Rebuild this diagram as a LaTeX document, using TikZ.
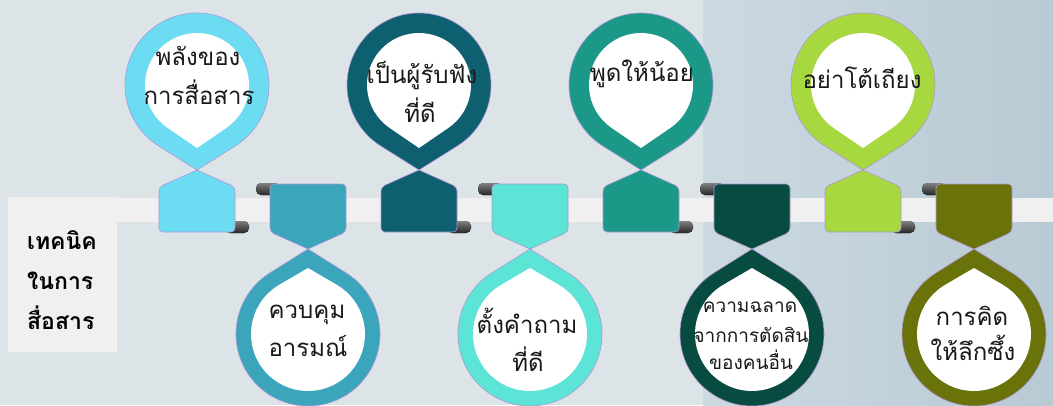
\documentclass[tikz,border=0pt]{standalone}
\usepackage{fontspec}
\newfontfamily\thai[Script=Thai]{Loma}
\usetikzlibrary{calc}
\definecolor{bgL}{RGB}{221,228,232}
\definecolor{bgR1}{RGB}{204,217,225}
\definecolor{bgR2}{RGB}{184,202,212}
\definecolor{bandc}{RGB}{240,240,240}
\definecolor{cA}{RGB}{108,220,242}
\definecolor{cB}{RGB}{58,165,187}
\definecolor{cC}{RGB}{14,96,112}
\definecolor{cD}{RGB}{92,228,214}
\definecolor{cE}{RGB}{27,152,136}
\definecolor{cF}{RGB}{8,75,65}
\definecolor{cG}{RGB}{168,216,64}
\definecolor{cH}{RGB}{106,115,10}
\definecolor{edgec}{RGB}{175,150,215}
\definecolor{txtc}{RGB}{25,25,25}
\tikzset{
  curl/.style={top color=black!50, bottom color=black!85, rounded corners=5},
  tabedge/.style={draw=edgec, line width=0.6pt},
  ptxt/.style={font=\thai\fontsize{24}{24}\selectfont, text=txtc, anchor=base, inner sep=0pt},
  stxt/.style={font=\thai\fontsize{19}{19}\selectfont, text=txtc, anchor=base, inner sep=0pt},
  lbl/.style={font=\thai\bfseries\fontsize{23}{23}\selectfont, text=black, anchor=base west, inner sep=0pt},
}
\newcommand\UpPin[2]{%
  \fill[curl] ({#1+28},221) rectangle ({#1+52},233);
  \filldraw[fill=#2, tabedge] (#1,170) [rounded corners=4] -- ({#1+38},187) -- ({#1+38},232) -- ({#1-38},232) -- ({#1-38},187) [sharp corners] -- cycle;
  \filldraw[fill=#2, tabedge] (#1,170) -- ($(#1,85)+(58:72)$) arc[start angle=58, end angle=-238, radius=72] -- cycle;
  \fill[white] (#1,148) -- ($(#1,85)+(55.6:52)$) arc[start angle=55.6, end angle=-235.6, radius=52] -- cycle;
}
\newcommand\DownPin[2]{%
  \fill[curl] ({#1-52},183) rectangle ({#1-28},195);
  \filldraw[fill=#2, tabedge] (#1,249) [rounded corners=4] -- ({#1-38},232) -- ({#1-38},184) -- ({#1+38},184) -- ({#1+38},232) [sharp corners] -- cycle;
  \filldraw[fill=#2, tabedge] (#1,249) -- ($(#1,334)+(-58:72)$) arc[start angle=-58, end angle=238, radius=72] -- cycle;
  \fill[white] (#1,268) -- ($(#1,334)+(-59.7:57)$) arc[start angle=-59.7, end angle=239.7, radius=57] -- cycle;
}
\begin{document}
\begin{tikzpicture}[x=1pt,y=-1pt]
\useasboundingbox (0,0) rectangle (1053,405);
\clip (0,0) rectangle (1053,405);
% background
\fill[bgL] (0,0) rectangle (703,405);
\shade[left color=bgR1, right color=bgR2] (703,0) rectangle (1053,405);
% band and label box
\fill[bandc] (8,198) rectangle (1053,222);
\fill[bandc] (8,197) rectangle (117,352);
\node[lbl] (l1) at (27,249) {เทคนิค};
\node[lbl] (l2) at (27,289) {ในการ};
\node[lbl] (l3) at (27,329) {สื่อสาร};
% pins
\UpPin{197}{cA}
\DownPin{308}{cB}
\UpPin{419}{cC}
\DownPin{530}{cD}
\UpPin{641}{cE}
\DownPin{752}{cF}
\UpPin{863}{cG}
\DownPin{974}{cH}
% texts
\node[ptxt] (p1a) at (198,65) {พลังของ};
\node[ptxt] (p1b) at (199,104) {การสื่อสาร};
\node[ptxt] (p2a) at (307,318) {ควบคุม};
\node[ptxt] (p2b) at (308,356) {อารมณ์};
\node[ptxt] (p3a) at (422,83) {เป็นผู้รับฟัง};
\node[ptxt] (p3b) at (420,122) {ที่ดี};
\node[ptxt] (p4a) at (527,333) {ตั้งคำถาม};
\node[ptxt] (p4b) at (528,371) {ที่ดี};
\node[ptxt] (p5) at (642,81) {พูดให้น้อย};
\node[stxt] (p6a) at (750,312) {ความฉลาด};
\node[stxt] (p6b) at (751,342) {จากการตัดสิน};
\node[stxt] (p6c) at (751,369) {ของคนอื่น};
\node[ptxt] (p7) at (862,88) {อย่าโต้เถียง};
\node[ptxt] (p8a) at (972,325) {การคิด};
\node[ptxt] (p8b) at (973,360) {ให้ลึกซึ้ง};
\end{tikzpicture}
\end{document}
